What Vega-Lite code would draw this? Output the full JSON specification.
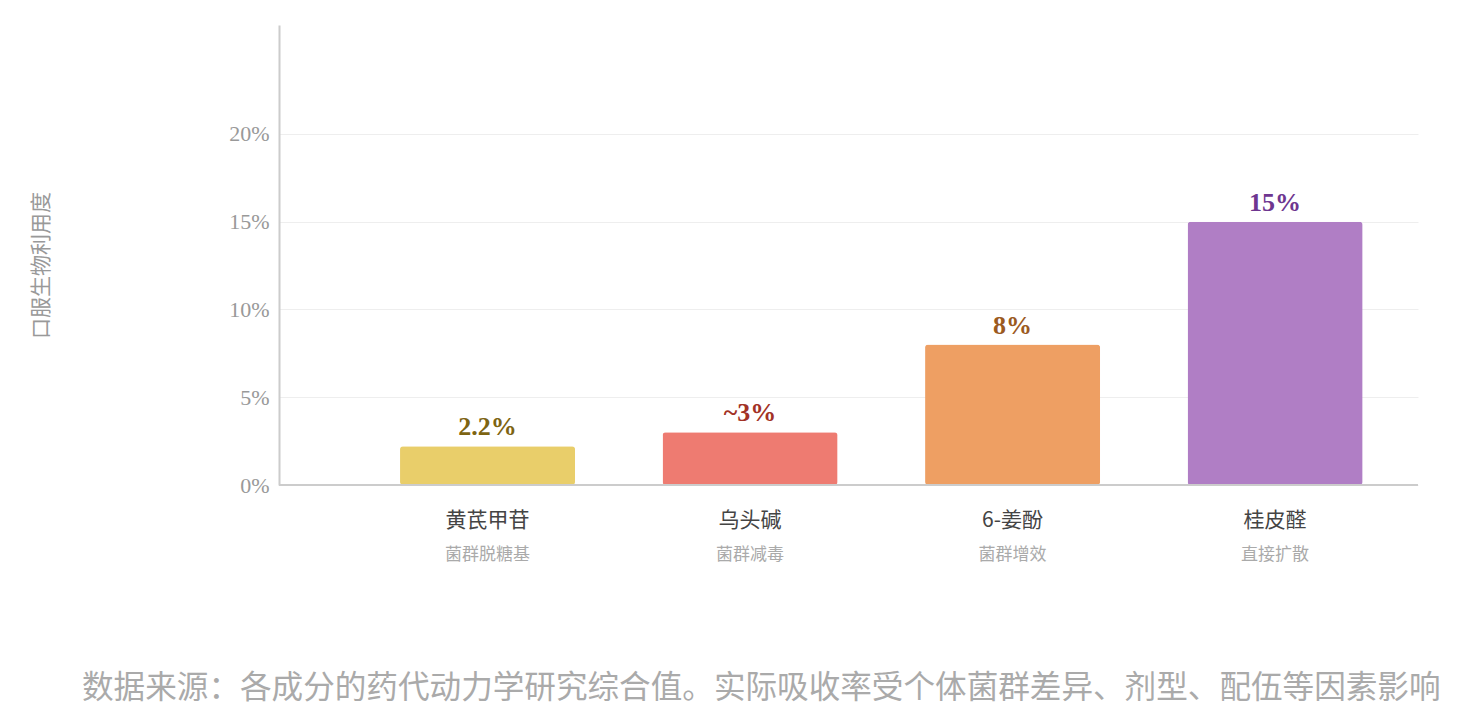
{
  "$schema": "https://vega.github.io/schema/vega-lite/v6.json",
  "autosize": "none",
  "width": 1139,
  "height": 460,
  "padding": {"left": 279, "top": 25, "right": 62, "bottom": 239},
  "background": "white",
  "title": {
    "text": "数据来源：各成分的药代动力学研究综合值。实际吸收率受个体菌群差异、剂型、配伍等因素影响",
    "orient": "bottom",
    "anchor": "start",
    "dx": 52,
    "offset": 110,
    "font": "Noto Sans CJK SC",
    "fontSize": 31.6,
    "fontWeight": "normal",
    "color": "#aaaaaa"
  },
  "data": {
    "values": [
      {"name": "黄芪甲苷", "sub": "菌群脱糖基", "value": 2.2, "label": "2.2%"},
      {"name": "乌头碱", "sub": "菌群减毒", "value": 3, "label": "~3%"},
      {"name": "6-姜酚", "sub": "菌群增效", "value": 8, "label": "8%"},
      {"name": "桂皮醛", "sub": "直接扩散", "value": 15, "label": "15%"}
    ]
  },
  "layer": [
    {
      "mark": {"type": "bar", "cornerRadius": 3},
      "encoding": {
        "x": {
          "field": "name",
          "type": "nominal",
          "sort": null,
          "scale": {"paddingInner": 0.3333, "paddingOuter": 0.336, "align": 0.686},
          "axis": null
        },
        "y": {
          "field": "value",
          "type": "quantitative",
          "scale": {"domain": [0, 26.2], "nice": false},
          "title": "口服生物利用度",
          "axis": {
            "values": [0, 5, 10, 15, 20],
            "labelExpr": "datum.value + '%'",
            "labelFont": "Liberation Serif",
            "labelFontSize": 22,
            "labelColor": "#999999",
            "labelPadding": 10,
            "ticks": false,
            "domainColor": "#cccccc",
            "domainWidth": 2,
            "gridColor": "#eeeeee",
            "gridWidth": 1,
            "titleFont": "Noto Sans CJK SC",
            "titleFontSize": 21,
            "titleFontWeight": "normal",
            "titleColor": "#999999",
            "titleX": -228,
            "titleY": 240
          }
        },
        "color": {
          "field": "name",
          "type": "nominal",
          "scale": {
            "domain": ["黄芪甲苷", "乌头碱", "6-姜酚", "桂皮醛"],
            "range": ["#e9ce6a", "#ee7b71", "#ee9f63", "#b07ec5"]
          },
          "legend": null
        }
      }
    },
    {
      "mark": {"type": "rule", "color": "#cccccc", "strokeWidth": 2},
      "encoding": {"y": {"datum": 0}}
    },
    {
      "mark": {
        "type": "text",
        "baseline": "bottom",
        "dy": -6,
        "font": "Liberation Serif",
        "fontSize": 26,
        "fontWeight": "bold"
      },
      "encoding": {
        "x": {"field": "name", "type": "nominal", "sort": null},
        "y": {"field": "value", "type": "quantitative"},
        "text": {"field": "label"},
        "color": {
          "field": "name",
          "type": "nominal",
          "scale": {
            "domain": ["黄芪甲苷", "乌头碱", "6-姜酚", "桂皮醛"],
            "range": ["#7d6412", "#a23226", "#9b5a1f", "#6e3690"]
          },
          "legend": null
        }
      }
    },
    {
      "mark": {
        "type": "text",
        "baseline": "middle",
        "dy": 36,
        "font": "Noto Sans CJK SC",
        "fontSize": 21,
        "color": "#444444"
      },
      "encoding": {
        "x": {"field": "name", "type": "nominal", "sort": null},
        "y": {"datum": 0},
        "text": {"field": "name"}
      }
    },
    {
      "mark": {
        "type": "text",
        "baseline": "middle",
        "dy": 70,
        "font": "Noto Sans CJK SC",
        "fontSize": 17,
        "color": "#aaaaaa"
      },
      "encoding": {
        "x": {"field": "name", "type": "nominal", "sort": null},
        "y": {"datum": 0},
        "text": {"field": "sub"}
      }
    }
  ],
  "resolve": {"scale": {"color": "independent"}},
  "config": {
    "view": {"stroke": null},
    "axis": {"domainCap": "butt"}
  }
}
